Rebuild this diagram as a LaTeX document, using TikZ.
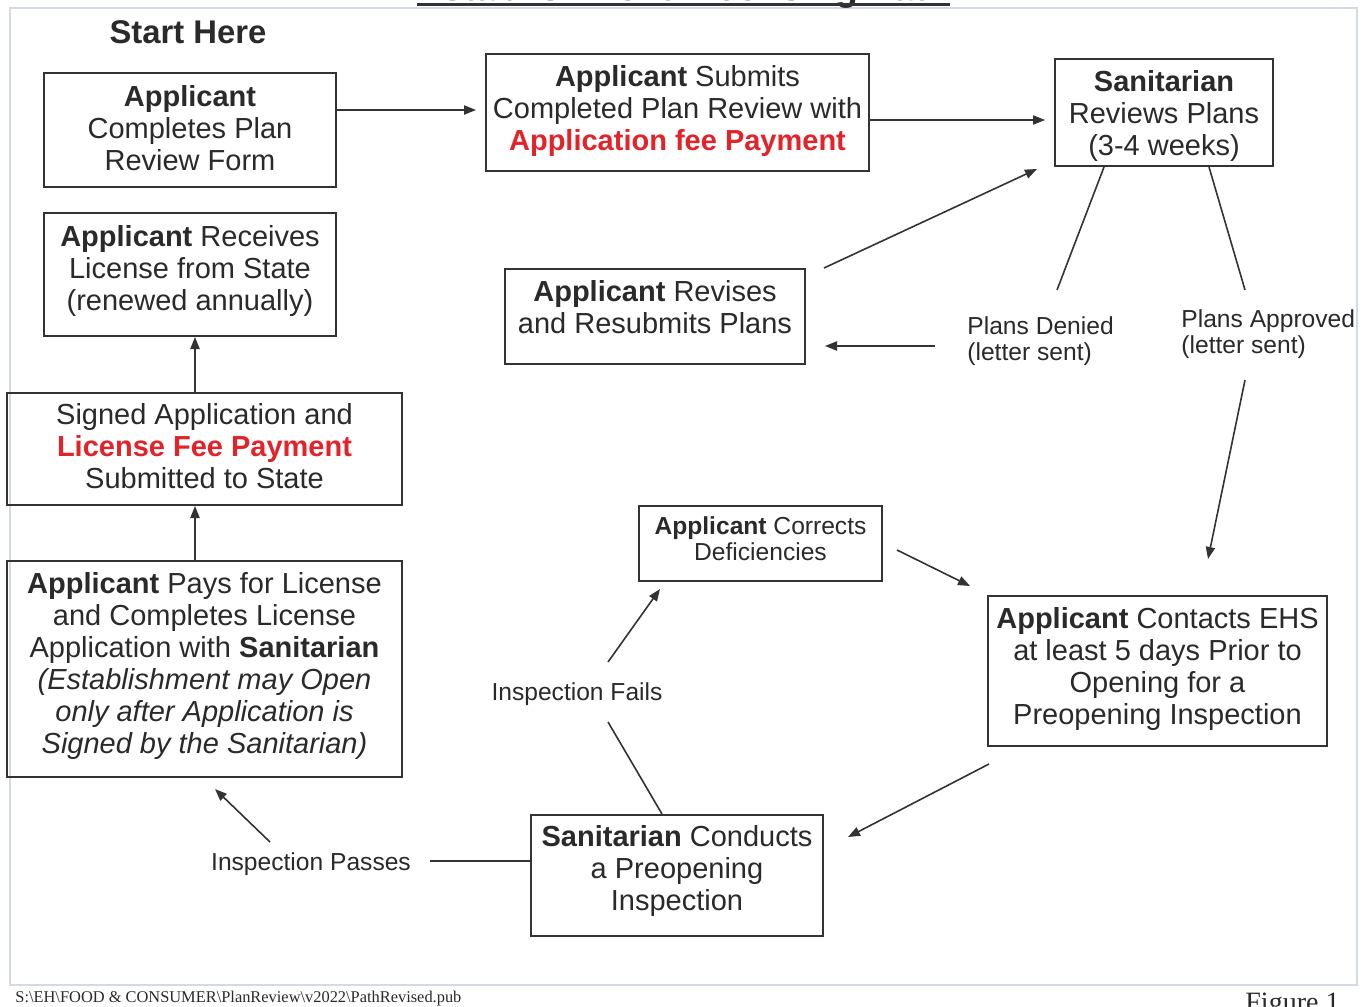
\documentclass[tikz,border=0pt]{standalone}
\usepackage{fontspec}
\setmainfont{Liberation Sans}
\newfontfamily\serifft{Liberation Serif}
\usetikzlibrary{arrows.meta,calc}
\definecolor{txt}{HTML}{2A2A2A}
\definecolor{lncol}{HTML}{333333}
\definecolor{frm}{HTML}{D3DAE1}
\definecolor{redtxt}{HTML}{E3232A}
\newcommand{\appl}{\textbf{Applicant}}
\newcommand{\rd}[1]{\textcolor{redtxt}{\textbf{#1}}}
\newcommand{\dpt}[1]{\rule[-#1]{0pt}{0pt}}
\newcommand{\htp}[1]{\rule{0pt}{#1}}
\begin{document}
\begin{tikzpicture}[x=0.5pt,y=-0.5pt,
  box/.style={draw=lncol, line width=1pt, align=center, text=txt, inner sep=2pt, font=\fontsize{14.5}{16}\selectfont},
  lbl/.style={text=txt, font=\fontsize{12.3}{13}\selectfont, inner sep=0pt},
  arr/.style={draw=lncol, line width=0.8pt, -{Triangle[length=6pt,width=4.6pt]}},
  plain/.style={draw=lncol, line width=0.8pt}]
\useasboundingbox (0,0) rectangle (1364,1006);
\fill[white] (0,0) rectangle (1364,1006);
\draw[frm, line width=0.75pt] (10,8) rectangle (1357,985);
% title (cut off at the top)
\node[inner sep=0pt, anchor=base, text=txt, font=\bfseries\fontsize{18.7}{20}\selectfont] (title) at (683.5,1) {Establishment Licensing Path};
\draw[lncol, line width=1.4pt] ([yshift=-1.9pt]title.base west) -- ([yshift=-1.9pt]title.base east);
% boxes
\node[box, minimum width=146pt, minimum height=57pt] (b1) at (190,130) {\appl\\Completes Plan\\Review Form\dpt{2.5pt}};
\node[box, minimum width=191.5pt, minimum height=58.5pt] (b2) at (677.5,112.5) {\appl{} Submits\\Completed Plan Review with\\\rd{Application fee Payment}\dpt{5pt}};
\node[box, minimum width=109pt, minimum height=53.5pt] (b3) at (1164,112.5) {\htp{14pt}\textbf{Sanitarian}\\Reviews Plans\\(3-4 weeks)};
\node[box, minimum width=146pt, minimum height=61.5pt] (b4) at (190,274.5) {\appl{} Receives\\License from State\\(renewed annually)\dpt{7pt}};
\node[box, minimum width=150pt, minimum height=47.5pt] (b5) at (655,316.5) {\appl{} Revises\\and Resubmits Plans\dpt{10pt}};
\node[box, minimum width=197.5pt, minimum height=56pt] (b6) at (204.5,449) {Signed Application and\\\rd{License Fee Payment}\\Submitted to State\dpt{3.5pt}};
\node[box, minimum width=197.5pt, minimum height=108pt] (b7) at (204.5,669) {\appl{} Pays for License\\and Completes License\\Application with \textbf{Sanitarian}\\\textit{(Establishment may Open}\\\textit{only after Application is}\\\textit{Signed by the Sanitarian)}\dpt{6pt}};
\node[box, minimum width=121.5pt, minimum height=37.5pt, font=\fontsize{12.3}{13}\selectfont] (b8) at (760.5,543.5) {\appl{} Corrects\\Deficiencies\dpt{5pt}};
\node[box, minimum width=169.5pt, minimum height=75pt] (b9) at (1157.5,671) {\appl{} Contacts EHS\\at least 5 days Prior to\\Opening for a\\Preopening Inspection\dpt{5.5pt}};
\node[box, minimum width=146pt, minimum height=60.5pt] (b10) at (677,875.5) {\textbf{Sanitarian} Conducts\\a Preopening\\Inspection\dpt{7.5pt}};
% labels
\node[lbl, font=\bfseries\fontsize{16.4}{18}\selectfont] (start) at (188,32) {Start Here};
\node[lbl, align=left, anchor=west] (denied) at (967,341) {Plans Denied\\(letter sent)};
\node[lbl, align=left, anchor=west] (approved) at (1181,334) {Plans Approved\\(letter sent)};
\node[lbl] (fails) at (577,694) {Inspection Fails};
\node[lbl] (passes) at (311,864) {Inspection Passes};
% footer
\node[anchor=west, inner sep=0pt, text=txt, font=\serifft\fontsize{8.2}{9}\selectfont] (path) at (15,999) {S:\textbackslash EH\textbackslash FOOD \& CONSUMER\textbackslash PlanReview\textbackslash v2022\textbackslash PathRevised.pub};
\node[anchor=base west, inner sep=0pt, text=txt, font=\serifft\fontsize{14}{16}\selectfont] (fig) at (1245,1011) {Figure 1};
% free ends
\coordinate (d1) at (1057,290);
\coordinate (a1) at (1245,290);
\coordinate (d2) at (935,346);
\coordinate (a2) at (1245,380);
\coordinate (f1) at (608,722);
\coordinate (f2) at (608,662);
\coordinate (p1) at (430,861);
\coordinate (p2) at (270,842);
% connectors
\draw[arr, shorten >=4.5pt] ([yshift=10pt]b1.east) -- ([yshift=10pt]b1.east -| b2.west);
\draw[arr, shorten >=4.5pt] ([yshift=-3.75pt]b2.east) -- ([yshift=-3.75pt]b2.east -| b3.west);
\draw[arr] ([xshift=9pt]b5.north east) -- ([xshift=-8.5pt,yshift=-1pt]b3.south west);
\draw[plain] ([xshift=-30pt]b3.south) -- (d1);
\draw[plain] ([xshift=22.5pt]b3.south) -- (a1);
\draw[arr, shorten >=9.5pt] (d2) -- (d2 -| b5.east);
\draw[arr] (a2) -- ([xshift=25.25pt,yshift=18pt]b9.north);
\draw[arr] ([xshift=7pt,yshift=-3.25pt]b8.east) -- ([xshift=-8.5pt,yshift=4.5pt]b9.north west);
\draw[arr] ([xshift=1pt,yshift=-8.5pt]b9.south west) -- ([xshift=12pt,yshift=-11.5pt]b10.north east);
\draw[plain] ([xshift=-7.5pt]b10.north) -- (f1);
\draw[arr] (f2) -- ([xshift=11pt,yshift=-3.5pt]b8.south west);
\draw[plain] ([yshift=7.25pt]b10.west) -- (p1);
\draw[arr] (p2) -- ([xshift=5.25pt,yshift=-5.5pt]b7.south);
\draw[arr] ([xshift=-4.75pt]b7.north) -- ([xshift=-4.75pt]b7.north |- b6.south);
\draw[arr] ([xshift=-4.75pt]b6.north) -- ([xshift=-4.75pt]b6.north |- b4.south);
\end{tikzpicture}
\end{document}
